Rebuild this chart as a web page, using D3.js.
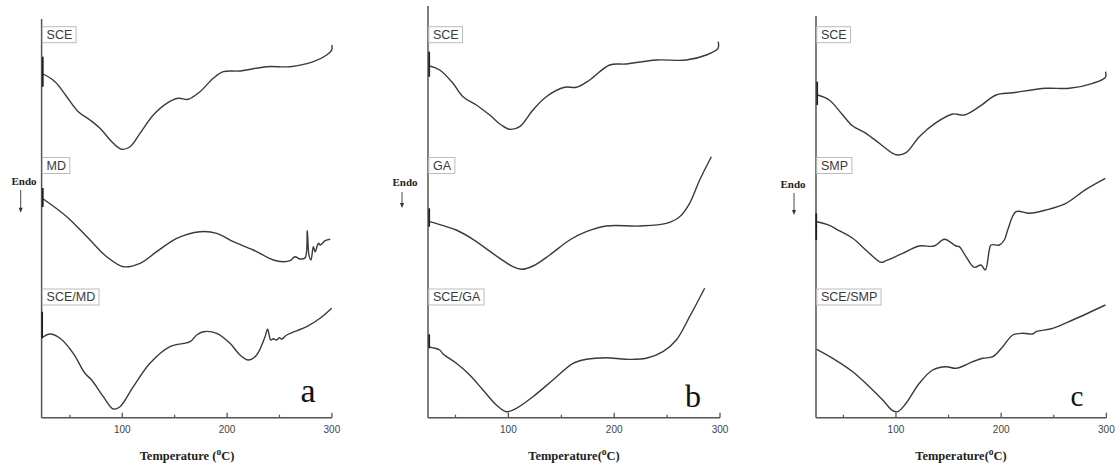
<!DOCTYPE html>
<html><head><meta charset="utf-8">
<script src="https://cdn.jsdelivr.net/npm/d3@7"></script>
<style>body{margin:0;background:#fff}svg{display:block}</style>
</head><body>
<svg id="c" width="1120" height="473"></svg>
<script>
// ---- data (temperature °C, relative heat flow, arbitrary units) ----
const majorTicks = [100, 200, 300];
const minorTicks = [50, 150, 250];
const panelLetters = ["a", "b", "c"];
const xTitles = ["Temperature (", "Temperature(", "Temperature("];
const seriesLabels = [["SCE", "MD", "SCE/MD"], ["SCE", "GA", "SCE/GA"], ["SCE", "SMP", "SCE/SMP"]];

const sceA = [[24.6,343.7],[35.8,336],[47,321],[58,306],[69.2,297.7],[78.7,289.4],[91.4,274.4],[99.4,268.4],[107.4,271],[116.9,284.4],[129.6,302.7],[142.4,314.4],[153.4,319.4],[163,318.4],[174.1,326],[186.8,339.4],[196.4,346],[212.3,346.7],[237.8,351],[260,351],[282.3,356],[295,362.7],[299.8,367.7],[300,372.7]];
const mdA = [[24.6,218.7],[47,201],[69.2,177.7],[85.1,161],[101,151],[116.9,154.4],[132.8,166],[151.9,179.4],[174.1,186],[190.1,184.4],[205.9,176],[225,167.7],[244.1,157.7],[253.6,156],[260,157],[264.8,161],[269.6,158.7],[274.5,160],[276.5,187],[278.2,162],[280,157.7],[282.3,171],[284,166],[287.2,174.4],[288.8,172.7],[293.6,177],[298.4,178.4]];
const sceMdA = [[24,80.4],[31,83.7],[40.6,79.4],[53.2,64.4],[64.4,44.4],[70.8,37.7],[81.9,21],[91.4,8.7],[97.8,11],[110.5,31],[126.4,54.4],[145.5,71],[164.6,76],[171,82.7],[177.3,86],[190.1,84.4],[202.8,74.4],[212.3,62.7],[220.2,57.7],[228.2,62.7],[236.2,81],[238.7,88.4],[241.6,77.7],[244,79],[247.3,77.7],[250,80],[252,78.5],[256.9,82.7],[276,91],[288.7,99.4],[299.8,109.4]];

const sceB = [[25.6,351.7],[35.1,347.7],[47.6,334.4],[57.1,321],[69.7,312.7],[82.3,302.7],[93.3,292.7],[101.2,288.4],[110.7,291],[123.2,307.7],[135.8,321],[153.2,330.4],[164.2,330.4],[176.8,337.7],[195.7,352.7],[211.4,353.7],[239.8,357.7],[268.1,357.7],[287,362.7],[298.1,369.4],[298.3,376]];
const gaB = [[25.6,196],[41.3,191],[50.7,187.7],[66.5,178.4],[91.8,159.4],[104.3,151],[112.2,148.4],[123.2,151.7],[139,162.7],[157.9,177.7],[173.6,186],[192.5,191.7],[224.1,191.7],[249.2,194.4],[261.9,201],[271.3,214.4],[280.8,237.7],[291.8,261]];
const sceGaB = [[25.6,70.4],[35.1,67.7],[38.2,63.7],[50.8,54.4],[63.4,42.7],[76,27.7],[88.6,12.7],[98,6],[107.5,9.4],[123.2,21],[142.1,37.7],[161.1,54.4],[173.6,58.4],[192.5,60],[211.4,58.4],[230.3,59.4],[246.1,66],[258.7,77.7],[271.3,101],[285.5,129.4]];

const sceC = [[25.6,322.7],[36.6,317.7],[49.4,302.7],[58.9,291.7],[71.5,284.4],[84.2,274.4],[96.9,264.4],[101.7,262.7],[109.6,265],[122.2,281],[138.1,295],[153.9,303.7],[165,302.7],[179.2,311],[195.1,322.7],[211,325],[242.6,329.4],[264.8,329.4],[287,334.4],[299,340.4],[299.2,346]];
const smpC = [[24.7,196],[35,193],[47,186.5],[58.9,179.4],[74.7,164.4],[85.8,155.4],[90.5,157],[106.4,164.4],[122.2,171.7],[136.5,171.7],[146,178.4],[157.1,171.7],[160.2,171],[166.6,161],[174.5,150.4],[180.8,152.7],[184.9,147.7],[188.7,167.7],[190.3,172.7],[198.2,172.7],[203,177.7],[206.2,187.7],[214.1,206],[226.8,204.4],[242.6,207.7],[261.6,214.4],[280.6,228.4],[299,239.4]];
const sceSmpC = [[24.7,68.4],[39.9,59.4],[58.9,46],[74.7,31],[87.4,17.7],[96.9,7],[101.7,6],[109.6,14.4],[122.2,34.4],[134.9,47.7],[147.6,51],[157.1,49.4],[172.9,56],[182.5,59.4],[192,61],[201.5,71],[211,82.7],[220.5,84.4],[230,83.7],[233.1,86],[249,89.4],[268,97.7],[299,112.7]];

// short vertical start marks [top, bottom] for each curve
const startMarks = [[[361,331],[229.7,210.7],[106,79.4]], [[366,341],[209.4,191],[83.4,69.4]], [[336,312.7],[204.4,177.7],null]];

const panelSeries = [[sceA, mdA, sceMdA], [sceB, gaB, sceGaB], [sceC, smpC, sceSmpC]];

// ---- layout ----
const panels = [
  {x0: 41.6, x1: 331.9, dom: [23, 300], top: 19, titleX: 187, letterX: 308, letterY: 402, letterSize: 34, endoX: 24, endoY: 185, arrowX: 20.7, arrowY: [190, 212.7]},
  {x0: 428, x1: 720, dom: [24, 300], top: 6, titleX: 574, letterX: 693, letterY: 407, letterSize: 32, endoX: 405, endoY: 186, arrowX: 402, arrowY: [192, 208]},
  {x0: 816, x1: 1106.4, dom: [24, 300], top: 16, titleX: 961, letterX: 1077, letterY: 406, letterSize: 29, endoX: 793, endoY: 188, arrowX: 794, arrowY: [193, 215]}
];
const labelTops = [26.7, 157.5, 289];
const baseY = 417.7;

const svg = d3.select("#c");
const y = d3.scaleLinear().domain([0, 400]).range([baseY, 17.7]);
const ink = "#3a3a3a";

panels.forEach((p, i) => {
  const x = d3.scaleLinear().domain(p.dom).range([p.x0, p.x1]);
  const g = svg.append("g");

  // axes
  g.append("line").attr("x1", p.x0).attr("x2", p.x0).attr("y1", p.top).attr("y2", baseY)
    .attr("stroke", "#555").attr("stroke-width", 1.5);
  g.append("line").attr("x1", p.x0).attr("x2", x(300)).attr("y1", baseY).attr("y2", baseY)
    .attr("stroke", "#555").attr("stroke-width", 1.5);
  g.selectAll(".mj").data(majorTicks).join("line")
    .attr("x1", d => x(d)).attr("x2", d => x(d)).attr("y1", baseY).attr("y2", baseY - 5)
    .attr("stroke", "#555").attr("stroke-width", 1.3);
  g.selectAll(".mn").data(minorTicks).join("line")
    .attr("x1", d => x(d)).attr("x2", d => x(d)).attr("y1", baseY).attr("y2", baseY - 3)
    .attr("stroke", "#555").attr("stroke-width", 1.2);
  g.selectAll(".tl").data(majorTicks).join("text")
    .attr("x", d => x(d)).attr("y", baseY + 15).attr("text-anchor", "middle")
    .attr("font-family", "Liberation Sans, Arial, sans-serif").attr("font-size", 10).attr("fill", "#444")
    .text(d => d);

  // title
  const t = g.append("text").attr("x", p.titleX).attr("y", 460).attr("text-anchor", "middle")
    .attr("font-family", "Liberation Serif, Times New Roman, serif").attr("font-weight", "bold")
    .attr("font-size", 12.5).attr("fill", "#222");
  t.append("tspan").text(xTitles[i]);
  t.append("tspan").attr("dy", -5).attr("font-size", 9.5).text("o");
  t.append("tspan").attr("dy", 5).text("C)");

  // curves
  const line = d3.line().x(d => x(d[0])).y(d => y(d[1])).curve(d3.curveCatmullRom.alpha(0.5));
  panelSeries[i].forEach((s, k) => {
    g.append("path").attr("d", line(s)).attr("fill", "none").attr("stroke", ink).attr("stroke-width", 1.4)
      .attr("stroke-linejoin", "round");
    const sm = startMarks[i][k];
    if (sm) {
      g.append("line").attr("x1", x(s[0][0]) - 0.5).attr("x2", x(s[0][0]) - 0.5)
        .attr("y1", y(sm[0])).attr("y2", y(sm[1])).attr("stroke", "#222").attr("stroke-width", 1.8);
    }
  });

  // labels
  seriesLabels[i].forEach((lab, k) => {
    const lt = g.append("text").attr("x", p.x0 + 5).attr("y", labelTops[k] + 12.3)
      .attr("font-family", "Liberation Sans, Arial, sans-serif").attr("font-size", 12.5).attr("fill", "#3a3a3a").text(lab);
    const w = lt.node().getComputedTextLength();
    g.insert("rect", "text").attr("x", p.x0 + 0.8).attr("y", labelTops[k]).attr("width", w + 8).attr("height", 16)
      .attr("fill", "#fff").attr("stroke", "#bbb").attr("stroke-width", 1);
  });

  // Endo
  g.append("text").attr("x", p.endoX).attr("y", p.endoY).attr("text-anchor", "middle")
    .attr("font-family", "Liberation Serif, Times New Roman, serif").attr("font-weight", "bold")
    .attr("font-size", 11).attr("fill", "#222").text("Endo");
  g.append("line").attr("x1", p.arrowX).attr("x2", p.arrowX).attr("y1", p.arrowY[0]).attr("y2", p.arrowY[1] - 4)
    .attr("stroke", "#333").attr("stroke-width", 0.9);
  g.append("path")
    .attr("d", `M${p.arrowX - 2},${p.arrowY[1] - 5} L${p.arrowX + 2},${p.arrowY[1] - 5} L${p.arrowX},${p.arrowY[1]} Z`)
    .attr("fill", "#333");

  // panel letter
  g.append("text").attr("x", p.letterX).attr("y", p.letterY).attr("text-anchor", "middle")
    .attr("font-family", "Liberation Serif, Times New Roman, serif").attr("font-size", p.letterSize)
    .attr("fill", "#111").text(panelLetters[i]);
});
</script>
</body></html>
